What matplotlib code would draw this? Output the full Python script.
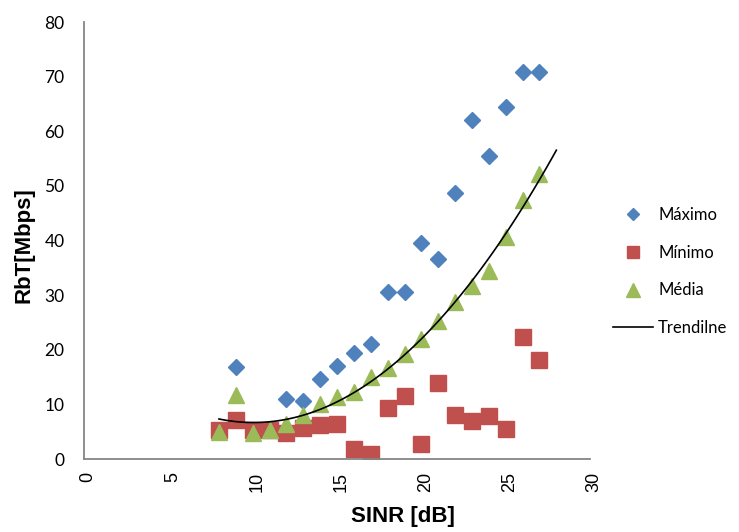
import numpy as np
import matplotlib
matplotlib.use('Agg')
import matplotlib.pyplot as plt
import matplotlib.transforms as mtransforms

# SINR [dB] values for each series
sinr_max = [9, 12, 13, 14, 15, 16, 17, 18, 19, 20, 21, 22, 23, 24, 25, 26, 27]
rbt_max = [16.9, 11.0, 10.7, 14.6, 17.0, 19.4, 21.1, 30.6, 30.6, 39.5, 36.6,
           48.7, 62.0, 55.5, 64.5, 70.8, 70.8]

sinr_min = list(range(8, 28))
rbt_min = [5.3, 7.1, 5.3, 5.3, 4.7, 5.6, 6.3, 6.4, 1.8, 1.0, 9.3, 11.5, 2.8,
           14.0, 8.1, 7.0, 7.8, 5.5, 22.3, 18.1]

sinr_avg = list(range(8, 28))
rbt_avg = [5.0, 11.7, 4.8, 5.3, 6.5, 8.1, 10.0, 11.3, 12.3, 15.0, 16.6, 19.2,
           21.9, 25.3, 28.8, 31.7, 34.5, 40.6, 47.4, 52.2]

blue = '#4F81BD'
red = '#C0504D'
green = '#9BBB59'
axis_gray = '#868686'

fig = plt.figure(figsize=(7.39, 5.32), dpi=100)
ax = fig.add_axes([0.1137, 0.1372, 0.6848, 0.8214])

ax.plot(sinr_max, rbt_max, linestyle='none', marker='D', markersize=8.2,
        color=blue, label='Máximo')
ax.plot(sinr_min, rbt_min, linestyle='none', marker='s', markersize=11.5,
        color=red, label='Mínimo')
ax.plot(sinr_avg, rbt_avg, linestyle='none', marker='^', markersize=12,
        color=green, label='Média')

# polynomial trendline of the average series
coef = np.polyfit(sinr_avg, rbt_avg, 2)
xt = np.linspace(min(sinr_avg), max(sinr_avg) + 1, 100)
ax.plot(xt, np.polyval(coef, xt), color='black', linewidth=1.2,
        label='Trendilne')

ax.set_xlim(0, 30)
ax.set_ylim(0, 80)
ax.set_xticks(range(0, 31, 5))
ax.set_yticks(range(0, 81, 10))

for side in ['top', 'right']:
    ax.spines[side].set_visible(False)
for side in ['left', 'bottom']:
    ax.spines[side].set_color(axis_gray)
    ax.spines[side].set_linewidth(1.3)

ax.tick_params(axis='both', length=0)
ax.tick_params(axis='y', pad=14, labelsize=12.5)
ax.tick_params(axis='x', pad=9, labelsize=13, labelrotation=90)
for lbl in ax.get_yticklabels():
    lbl.set_family('Lato')
offset = mtransforms.ScaledTranslation(4 / 100, 0, fig.dpi_scale_trans)
for lbl in ax.get_xticklabels():
    lbl.set_family('Liberation Sans')
    lbl.set_transform(lbl.get_transform() + offset)

ax.set_xlabel('SINR [dB]', fontsize=16, fontweight='bold',
              family='Liberation Sans')
ax.xaxis.set_label_coords(0.63, -0.108)
ax.set_ylabel('RbT[Mbps]', fontsize=16, fontweight='bold',
              family='Liberation Sans')
ax.yaxis.set_label_coords(-0.098, 0.49)

fig.legend(loc='upper left', bbox_to_anchor=(613 / 739, 1 - 207 / 532),
           frameon=False, prop={'family': 'Lato', 'size': 12},
           handlelength=2.4, handletextpad=0.3, labelspacing=1.3,
           markerscale=0.8, borderpad=0, borderaxespad=0)

fig.savefig('out.png', dpi=100)
